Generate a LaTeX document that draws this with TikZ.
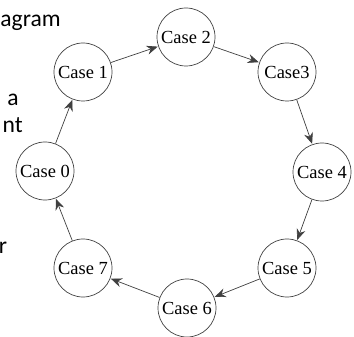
\documentclass[tikz,border=0pt]{standalone}
\usepackage{fontspec}
\setmainfont{Liberation Serif}
\newfontfamily\slidefont{Carlito}
\usetikzlibrary{arrows.meta, positioning}
\definecolor{caseLine}{HTML}{404040}

\begin{document}
\begin{tikzpicture}[x=0.2mm, y=-0.2mm, >={Stealth[length=2.2mm, width=1.8mm]},
  casenode/.style={circle, draw=caseLine, thin, fill=white, minimum size=11.6mm,
                   inner sep=0pt, font=\fontsize{10.5}{12}\selectfont},
  slidetext/.style={font=\slidefont\fontsize{13.4}{15}\selectfont, inner sep=0pt, anchor=base east},
  link/.style={->, caseLine, thin, shorten >=0.3pt}]
\useasboundingbox (0,0) rectangle (354,337);
% ---- slide text on the left
\node[slidetext] (t1) at (61,27) {agram};
\node[slidetext, anchor=base west] (t2) at (7,106) {a};
\node[slidetext] (t3) at (23,133) {nt};
\node[slidetext] (t4) at (7.5,253) {r};
% ---- the eight cases
\foreach \n/\pos/\name in {0/{45,171}/{Case 0}, 1/{83,72}/{Case 1}, 2/{186,37}/{Case 2},
  3/{287,72}/{Case3}, 4/{322,172}/{Case 4}, 5/{287,268}/{Case 5},
  6/{187,308}/{Case 6}, 7/{83,268}/{Case 7}} {
  \node[casenode] (c\n) at (\pos) {\name};
}
% ---- ring of transitions
\foreach \a/\b in {0/1, 1/2, 2/3, 3/4, 4/5, 5/6, 6/7, 7/0} {
  \draw[link] (c\a) -- (c\b);
}
\end{tikzpicture}
\end{document}
